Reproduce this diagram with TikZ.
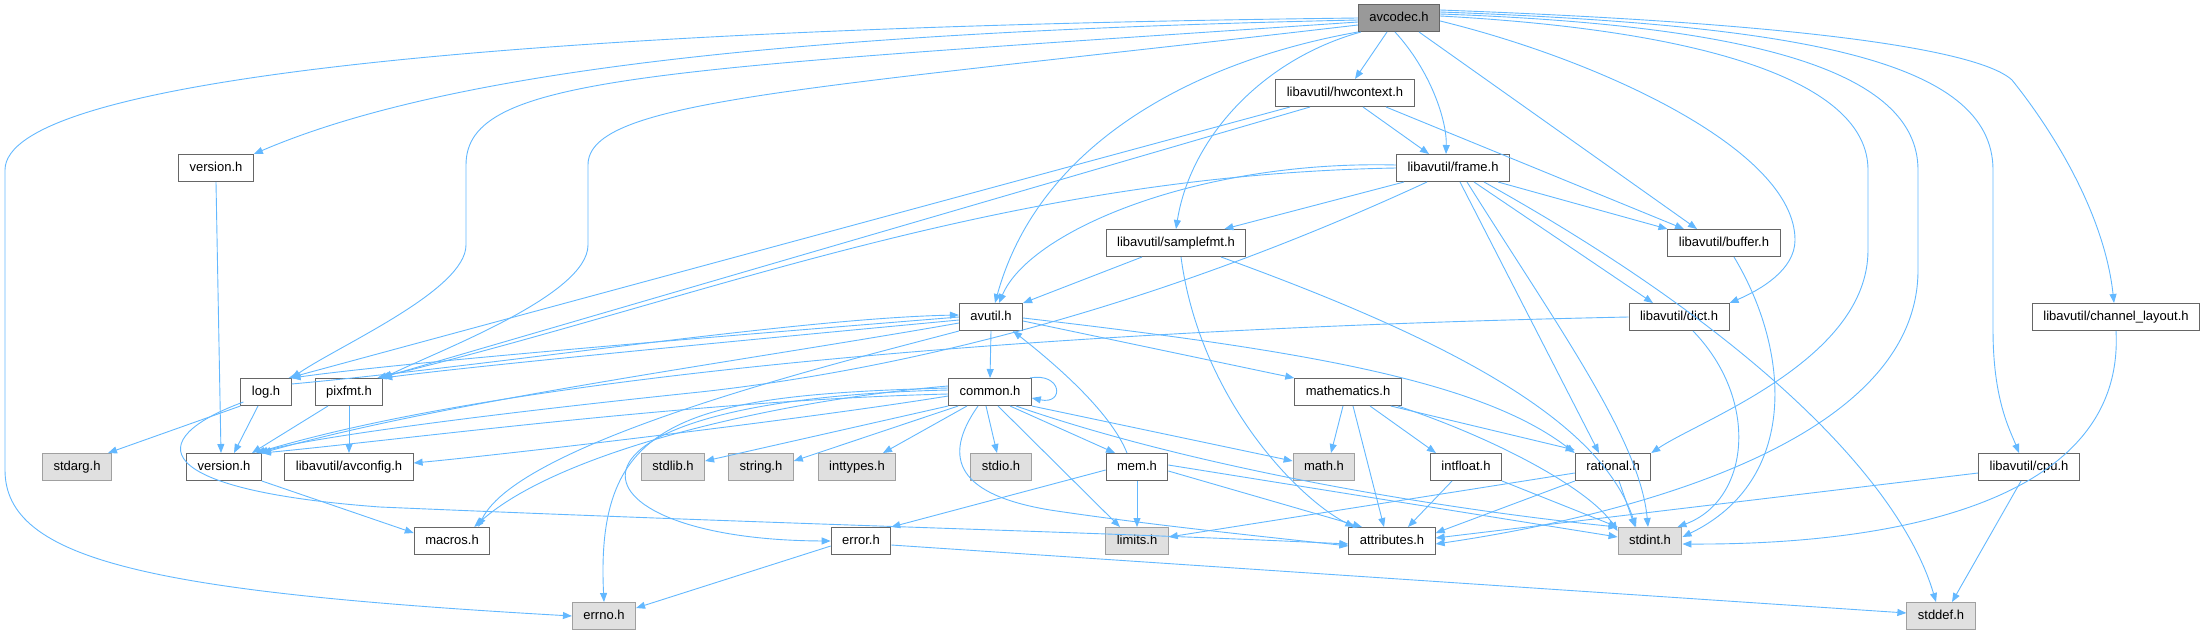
\documentclass[tikz,border=0pt]{standalone}
\usepackage{fontspec}
\setmainfont{Liberation Sans}
\usepackage{tikz}
\usetikzlibrary{positioning}
\usetikzlibrary{arrows.meta}

\definecolor{edgeblue}{HTML}{63B8FF}
\definecolor{hdrborder}{HTML}{666666}
\definecolor{sysborder}{HTML}{A0A0A0}
\definecolor{sysfill}{HTML}{E0E0E0}
\definecolor{mainfill}{HTML}{999999}

\tikzset{
  hdr/.style={rectangle,draw=hdrborder,fill=white,line width=1pt,minimum height=27pt,inner xsep=11pt,inner ysep=0pt,text height=9.5pt,text depth=2.5pt,font=\fontsize{13}{15}\selectfont},
  syshdr/.style={hdr,draw=sysborder,fill=sysfill},
  mainhdr/.style={hdr,fill=mainfill},
  dep/.style={draw=edgeblue,line width=0.9pt,-{Triangle[length=9pt,width=7pt]}}
}

\begin{document}
\begin{tikzpicture}[x=1pt,y=-1pt]
\useasboundingbox (0,0) rectangle (2205,635);

\node[mainhdr] (avcodec) at (1399,18) {avcodec.h};
\node[hdr] (hwctx) at (1345,93) {libavutil/hwcontext.h};
\node[hdr] (lavcver) at (216,168) {version.h};
\node[hdr] (frame) at (1453,168) {libavutil/frame.h};
\node[hdr] (samplefmt) at (1176,243) {libavutil/samplefmt.h};
\node[hdr] (buffer) at (1724,243) {libavutil/buffer.h};
\node[hdr] (avutil) at (991,317) {avutil.h};
\node[hdr] (dict) at (1679,317) {libavutil/dict.h};
\node[hdr] (chlayout) at (2116,317) {libavutil/channel\_layout.h};
\node[hdr] (log) at (266,392) {log.h};
\node[hdr] (pixfmt) at (349,392) {pixfmt.h};
\node[hdr] (common) at (990,392) {common.h};
\node[hdr] (mathematics) at (1348,392) {mathematics.h};
\node[syshdr] (stdarg) at (77,467) {stdarg.h};
\node[hdr] (version) at (224,467) {version.h};
\node[hdr] (avconfig) at (349,467) {libavutil/avconfig.h};
\node[syshdr] (stdlib) at (673,467) {stdlib.h};
\node[syshdr] (string) at (761,467) {string.h};
\node[syshdr] (inttypes) at (857,467) {inttypes.h};
\node[syshdr] (stdio) at (1001,467) {stdio.h};
\node[hdr] (mem) at (1137,467) {mem.h};
\node[syshdr] (math) at (1324,467) {math.h};
\node[hdr] (intfloat) at (1466,467) {intfloat.h};
\node[hdr] (rational) at (1613,467) {rational.h};
\node[hdr] (cpu) at (2029,467) {libavutil/cpu.h};
\node[hdr] (macros) at (452,541) {macros.h};
\node[hdr] (error) at (861,541) {error.h};
\node[syshdr] (limits) at (1137,541) {limits.h};
\node[hdr] (attributes) at (1392,541) {attributes.h};
\node[syshdr] (stdint) at (1650,541) {stdint.h};
\node[syshdr] (errno) at (604,616) {errno.h};
\node[syshdr] (stddef) at (1941,616) {stddef.h};

\draw[dep] (avcodec.west) .. controls (500,28) and (5,80) .. (5,170) -- (5,470) .. controls (5,560) and (150,592) .. (errno.west);
\draw[dep] ([yshift=-2pt]avcodec.west) .. controls (800,32) and (450,70) .. (lavcver.north east);
\draw[dep] ([yshift=-4pt]avcodec.west) .. controls (650,70) and (466,75) .. (466,165) -- (466,245) .. controls (466,290) and (340,345) .. (log.north east);
\draw[dep] ([yshift=-7pt]avcodec.west) .. controls (800,90) and (588,100) .. (588,165) -- (588,245) .. controls (588,295) and (440,350) .. (pixfmt.north east);
\draw[dep] (avcodec.south west) .. controls (1200,60) and (1040,140) .. ([xshift=4pt]avutil.north);
\draw[dep] ([xshift=3pt]avcodec.south west) .. controls (1260,60) and (1190,140) .. (samplefmt.north);
\draw[dep] ([xshift=-12pt]avcodec.south) -- ([xshift=10pt]hwctx.north);
\draw[dep] ([xshift=-4pt]avcodec.south) .. controls (1430,70) and (1447,120) .. ([xshift=-7pt]frame.north);
\draw[dep] ([xshift=20pt]avcodec.south) -- ([xshift=-27pt]buffer.north);
\draw[dep] ([yshift=-3pt]avcodec.east) .. controls (1600,60) and (1795,150) .. (1795,240) .. controls (1795,270) and (1760,290) .. (dict.north east);
\draw[dep] ([yshift=2pt]avcodec.east) .. controls (1700,30) and (1868,80) .. (1868,170) -- (1868,250) .. controls (1868,360) and (1700,420) .. (rational.north east);
\draw[dep] ([yshift=4pt]avcodec.east) .. controls (1750,25) and (1918,70) .. (1918,170) -- (1918,270) .. controls (1918,450) and (1600,520) .. ([yshift=-3pt]attributes.east);
\draw[dep] ([yshift=6pt]avcodec.east) .. controls (1800,25) and (1993,60) .. (1993,170) -- (1993,330) .. controls (1993,400) and (2010,430) .. ([xshift=-10pt]cpu.north);
\draw[dep] ([yshift=8pt]avcodec.east) .. controls (1850,25) and (1985,55) .. (2012,80) .. controls (2060,140) and (2105,220) .. ([xshift=-2pt]chlayout.north);

\draw[dep] ([xshift=18pt]hwctx.south) -- ([xshift=-24pt]frame.north);
\draw[dep] ([xshift=41pt]hwctx.south) -- ([xshift=-40pt]buffer.north);
\draw[dep] ([xshift=-55pt]hwctx.south) -- ([xshift=-3pt]log.north east);
\draw[dep] ([xshift=-35pt]hwctx.south) -- ([xshift=-3pt]pixfmt.north east);

\draw[dep] ([yshift=3pt]frame.west) .. controls (1200,160) and (1030,230) .. ([xshift=8pt]avutil.north);
\draw[dep] (frame.west) .. controls (1000,175) and (700,300) .. ([xshift=-6pt]pixfmt.north east);
\draw[dep] ([xshift=-49pt]frame.south) -- ([xshift=-22pt]samplefmt.north east);
\draw[dep] ([xshift=-26pt]frame.south) .. controls (1150,310) and (900,370) .. (700,392) .. controls (450,418) and (300,440) .. ([xshift=-3pt]version.north east);
\draw[dep] ([xshift=45pt]frame.south) -- (buffer.north west);
\draw[dep] ([xshift=21pt]frame.south) -- ([xshift=-26pt]dict.north);
\draw[dep] ([xshift=7pt]frame.south) -- ([xshift=-14pt]rational.north);
\draw[dep] ([xshift=14pt]frame.south) .. controls (1560,330) and (1640,440) .. ([xshift=-2pt]stdint.north);
\draw[dep] ([xshift=31pt]frame.south) .. controls (1750,330) and (1900,480) .. ([xshift=-5pt]stddef.north);

\draw[dep] ([xshift=-34pt]samplefmt.south) -- (avutil.north east);
\draw[dep] ([xshift=5pt]samplefmt.south) .. controls (1200,400) and (1300,500) .. ([xshift=6pt]attributes.north west);
\draw[dep] ([xshift=45pt]samplefmt.south) .. controls (1450,340) and (1600,420) .. ([xshift=-14pt]stdint.north);

\draw[dep] ([xshift=10pt]buffer.south) .. controls (1790,350) and (1800,480) .. ([yshift=4pt]stdint.east);
\draw[dep] ([xshift=14pt]dict.south) .. controls (1760,400) and (1750,500) .. ([xshift=-5pt]stdint.north east);
\draw[dep] (dict.west) .. controls (1000,330) and (500,380) .. ([xshift=-6pt]version.north east);
\draw[dep] (chlayout.south) .. controls (2125,500) and (1900,545) .. ([yshift=-3pt]stdint.east);
\draw[dep] ([yshift=-6pt]cpu.west) -- ([yshift=3pt]attributes.east);
\draw[dep] ([xshift=-8pt]cpu.south) -- ([xshift=11pt]stddef.north);

\draw[dep] (lavcver.south) -- ([xshift=-3pt]version.north);

\draw[dep] (avutil.south) -- (common.north);
\draw[dep] ([yshift=-4pt]avutil.east) -- (mathematics.north west);
\draw[dep] ([yshift=-1pt]avutil.east) .. controls (1300,350) and (1480,380) .. (rational.north west);
\draw[dep] (avutil.west) .. controls (800,330) and (420,360) .. (log.north east);
\draw[dep] ([yshift=-3pt]avutil.west) .. controls (800,335) and (480,365) .. (pixfmt.north east);
\draw[dep] ([yshift=-6pt]avutil.west) .. controls (750,360) and (450,400) .. (version.north east);
\draw[dep] (avutil.south west) .. controls (850,360) and (520,440) .. ([xshift=-12pt]macros.north east);

\draw[dep] ([yshift=8pt]log.east) .. controls (500,365) and (800,318) .. ([yshift=2pt]avutil.west);
\draw[dep] (log.south west) -- ([xshift=-4pt]stdarg.north east);
\draw[dep] ([xshift=-8pt]log.south) -- ([xshift=10pt]version.north);
\draw[dep] ([xshift=3pt,yshift=4pt]log.south west) .. controls (140,440) and (150,490) .. (380,507) .. controls (800,525) and (1100,532) .. ([yshift=-3pt]attributes.west);

\draw[dep] ([xshift=-21pt]pixfmt.south) -- ([xshift=28pt]version.north);
\draw[dep] (pixfmt.south) -- (avconfig.north);

\draw[dep] ([xshift=-2pt]common.north east) .. controls (1062,372) and (1065,405) .. ([yshift=-6pt]common.east);
\draw[dep] (common.south west) -- ([yshift=6pt]stdlib.east);
\draw[dep] ([xshift=10pt]common.south west) -- ([yshift=6pt]string.east);
\draw[dep] ([xshift=-23pt]common.south) -- ([xshift=26pt]inttypes.north);
\draw[dep] ([xshift=-4pt]common.south) -- ([xshift=-4pt]stdio.north);
\draw[dep] ([xshift=20pt]common.south) -- ([xshift=-22pt]mem.north);
\draw[dep] ([xshift=8pt]common.south) -- ([xshift=-17pt]limits.north);
\draw[dep] (common.south east) -- ([yshift=6pt]math.west);
\draw[dep] ([xshift=-12pt]common.south) .. controls (940,460) and (960,495) .. (1050,510) .. controls (1150,525) and (1250,535) .. ([yshift=-5pt]attributes.west);
\draw[dep] ([xshift=26pt]common.south) .. controls (1200,470) and (1450,510) .. (stdint.north west);
\draw[dep] ([yshift=4pt]common.west) .. controls (680,395) and (595,420) .. (errno.north);
\draw[dep] ([yshift=2pt]common.west) .. controls (520,400) and (560,540) .. (error.west);
\draw[dep] ([yshift=6pt]common.west) .. controls (780,400) and (560,450) .. ([xshift=-16pt]macros.north east);
\draw[dep] ([yshift=-2pt]common.west) .. controls (700,400) and (400,440) .. (version.north east);
\draw[dep] ([yshift=-4pt]common.west) .. controls (800,420) and (500,455) .. ([yshift=4pt]avconfig.east);

\draw[dep] ([xshift=-5pt]mathematics.south) -- ([xshift=7pt]math.north);
\draw[dep] ([xshift=5pt]mathematics.south) -- ([xshift=-8pt]attributes.north);
\draw[dep] ([xshift=22pt]mathematics.south) -- ([xshift=6pt]intfloat.north west);
\draw[dep] ([xshift=-11pt]mathematics.south east) -- ([yshift=3pt]rational.north west);
\draw[dep] ([xshift=-4pt]mathematics.south east) .. controls (1500,440) and (1590,490) .. ([yshift=-4pt]stdint.north west);

\draw[dep] ([xshift=-10pt]mem.north) .. controls (1110,410) and (1050,360) .. ([xshift=22pt]avutil.south);
\draw[dep] (mem.south) -- (limits.north);
\draw[dep] ([yshift=-4pt]mem.east) -- ([xshift=-30pt]attributes.north);
\draw[dep] ([yshift=2pt]mem.east) -- ([yshift=4pt]stdint.west);
\draw[dep] ([yshift=-3pt]mem.west) -- (error.north east);

\draw[dep] ([xshift=-14pt]intfloat.south) -- ([xshift=16pt]attributes.north);
\draw[dep] (intfloat.south east) -- (stdint.north west);

\draw[dep] ([xshift=6pt]rational.south) -- ([xshift=-15pt]stdint.north);
\draw[dep] (rational.south west) -- ([yshift=8pt]attributes.east);
\draw[dep] ([yshift=-6pt]rational.west) -- ([yshift=4pt]limits.east);

\draw[dep] (version.south east) -- ([yshift=8pt]macros.west);
\draw[dep] ([yshift=-5pt]error.west) -- ([yshift=8pt]errno.east);
\draw[dep] ([yshift=-4pt]error.east) -- ([yshift=3pt]stddef.west);

\end{tikzpicture}
\end{document}
